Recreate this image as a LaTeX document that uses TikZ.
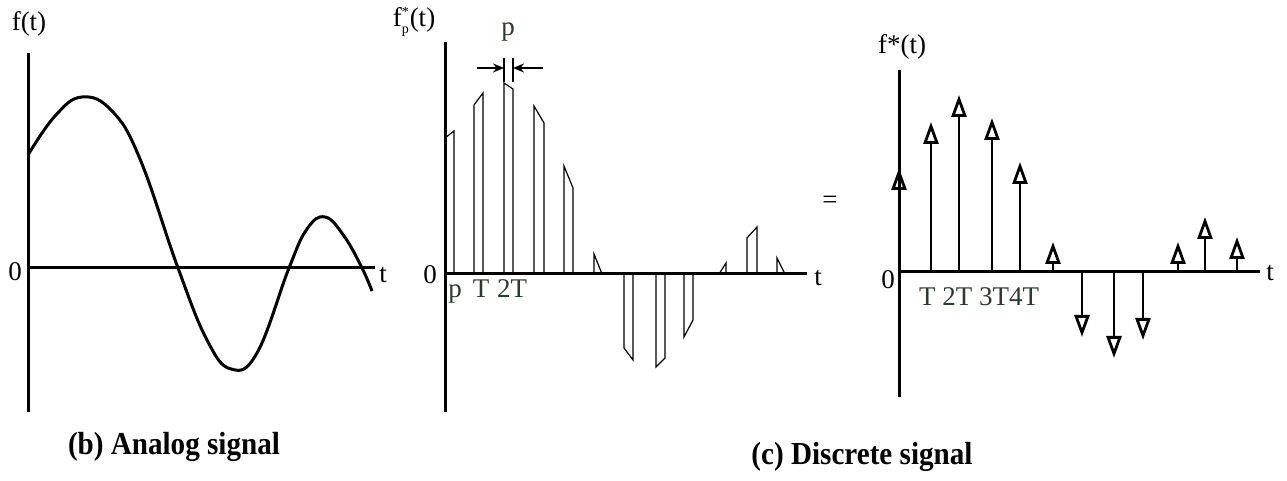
\documentclass[tikz,border=0pt]{standalone}
\usepackage{fontspec}
\setmainfont{Liberation Serif}
\usetikzlibrary{arrows.meta}
\definecolor{labelink}{RGB}{40,60,45}

\begin{document}
\begin{tikzpicture}[x=0.5pt, y=0.5pt,
  axis/.style={line width=1.5pt},
  pulse/.style={line width=0.6pt},
  impulse/.style={line width=0.7pt, -{Triangle[open, length=11pt, width=7.5pt, line width=1.4pt]}},
  lbl/.style={font=\fontsize{13.5}{15}\selectfont, inner sep=0pt},
  tick/.style={lbl, labelink, anchor=base},
  caption/.style={font=\fontsize{16}{18}\selectfont\bfseries, inner sep=0pt}]
  \useasboundingbox (0,0) rectangle (1287,481);

  % (b) analog signal
  \coordinate (a-top) at (28,428);
  \coordinate (a-bot) at (28,69);
  \coordinate (a-o) at (28,213);
  \coordinate (a-end) at (375,213);
  \draw[axis] (a-bot) -- (a-top);
  \draw[axis] (a-o) -- (a-end);
  \draw[line width=1.5pt] plot[smooth, tension=0.7] coordinates {(28,326) (55,365) (82,384) (112,370) (140,322) (178,213) (207,141) (231,112) (257,128) (289,213) (307,252) (325,264) (344,245) (362,213) (372,190)};
  \node[lbl] (fa) at (29,457) {f(t)};
  \node[lbl] (za) at (15,209) {0};
  \node[lbl] (ta) at (383,206) {t};
  \node[caption] (capb) at (174,34) {\scalebox{0.91}[1]{(b) Analog signal}};

  % sampled pulses f_p^*(t)
  \coordinate (p-top) at (445,439);
  \coordinate (p-bot) at (445,69);
  \coordinate (p-o) at (445,207);
  \coordinate (p-end) at (807,207);
  \draw[axis] (p-bot) -- (p-top);
  \draw[axis] (p-o) -- (p-end);
  \foreach \xl/\xr/\yl/\yr in {445/454/343/350, 474/483/376/388, 504/513/398/392, 534/544/375/358,
      564/573/315/293, 594/602/227/207, 624/633/133/121, 656/665/114/123, 684/693/144/161,
      719/726/207/218, 747/757/243/254, 777/785/223/207} {
    \draw[pulse] (\xl,207) -- (\xl,\yl) -- (\xr,\yr) -- (\xr,207);
  }
  \coordinate (w-l) at (504,413);
  \coordinate (w-r) at (513,413);
  \draw[line width=0.6pt] (504,399) -- (504,423);
  \draw[line width=0.6pt] (513,399) -- (513,423);
  \draw[line width=0.8pt, -{Stealth[length=5.5pt, width=4.5pt]}] (477,413) -- (w-l);
  \draw[line width=0.8pt, -{Stealth[length=5.5pt, width=4.5pt]}] (543,413) -- (w-r);
  \node[lbl, labelink] (pw) at (508,449) {p};
  \node[lbl] (fp) at (414,459) {f$^{\mbox{\scriptsize *}}_{\mbox{\scriptsize p}}$(t)};
  \node[lbl] (zp) at (430,206) {0};
  \node[lbl] (tp) at (818,203) {t};
  \node[tick] (pp) at (455,183) {p};
  \node[tick] (pT) at (481,183) {T};
  \node[tick] (p2T) at (512,183) {2T};

  % (c) discrete signal
  \node[lbl] (eq) at (830,279) {=};
  \coordinate (d-top) at (899,411);
  \coordinate (d-bot) at (899,84);
  \coordinate (d-o) at (899,209);
  \coordinate (d-end) at (1260,209);
  \draw[axis] (d-bot) -- (d-top);
  \draw[axis] (d-o) -- (d-end);
  \foreach \x/\y in {899/313, 931/359, 959/386, 992/363, 1020/319, 1053/239, 1082/144,
      1114/123, 1143/141, 1178/239, 1205/264, 1237/244} {
    \draw[impulse] (\x,209) -- (\x,\y);
  }
  \node[lbl] (fd) at (902,434) {f*(t)};
  \node[lbl] (zd) at (888,201) {0};
  \node[lbl] (td) at (1270,208) {t};
  \node[tick] (dT) at (979,175) {T 2T 3T4T};
  \node[caption] (capc) at (862,24) {\scalebox{0.91}[1]{(c) Discrete signal}};
\end{tikzpicture}
\end{document}
